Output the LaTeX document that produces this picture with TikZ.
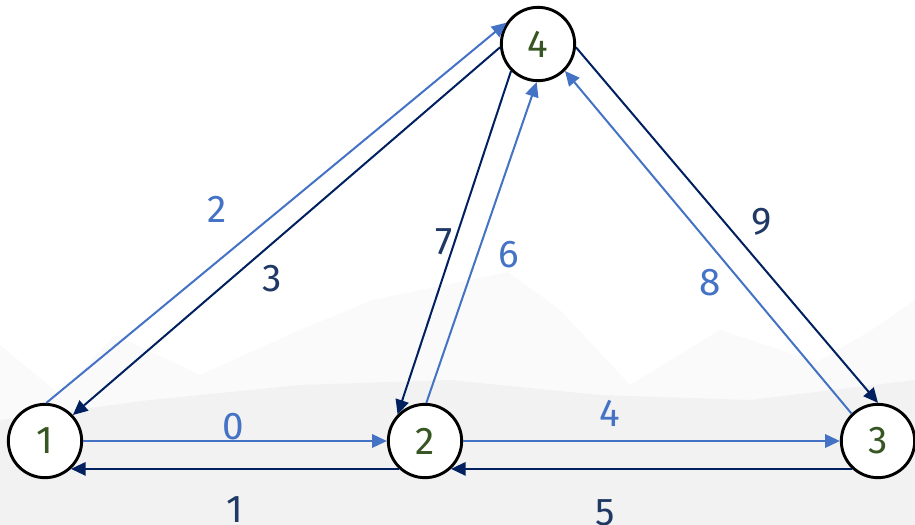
\documentclass[tikz,border=0pt]{standalone}
\usepackage{fontspec}
\setmainfont{Fira Sans}
\usetikzlibrary{arrows.meta}

\definecolor{edgeblue}{HTML}{4472C4}
\definecolor{edgenavy}{HTML}{002060}
\definecolor{labelnavy}{HTML}{1F3864}
\definecolor{nodegreen}{HTML}{375623}

\begin{document}
\begin{tikzpicture}[
    x=0.75pt, y=-0.75pt,
    >={Triangle[length=11pt,width=10pt]},
    vertex/.style={
        circle,
        draw=black,
        line width=2.2pt,
        fill=white,
        minimum size=55pt,
        inner sep=0pt,
        text=nodegreen,
        font=\fontsize{29}{29}\selectfont
    },
    light/.style={->, draw=edgeblue, line width=1.5pt},
    dark/.style={->, draw=edgenavy, line width=1.5pt},
    lightlbl/.style={text=edgeblue, inner sep=0pt, font=\fontsize{29}{29}\selectfont},
    darklbl/.style={text=labelnavy, inner sep=0pt, font=\fontsize{29}{29}\selectfont}
]
\useasboundingbox (0,0) rectangle (915,525);

% ---------------- BACKGROUND ----------------
\fill[white] (0,0) rectangle (915,525);
\fill[black!2] (0,525) -- (0,345) -- (60,395) -- (115,335) -- (200,375) -- (300,330) -- (373,300)
    -- (508,272) -- (560,310) -- (630,385) -- (720,330) -- (817,362) -- (872,330) -- (915,300) -- (915,525) -- cycle;
\fill[black!5] (0,525) -- (0,420) -- (150,400) -- (300,385) -- (450,380) -- (600,395) -- (750,400)
    -- (915,380) -- (915,525) -- cycle;

% ---------------- VERTICES ----------------
\node[vertex] (V1) at ( 45,441) {1};
\node[vertex] (V2) at (425,441) {2};
\node[vertex] (V3) at (878,441) {3};
\node[vertex] (V4) at (538, 44) {4};

% Bottom row:
\draw[light] (V1.0)   to node[lightlbl, shift={( -2,-14)}] {0} (V2.180);
\draw[dark ] (V2.227) to node[darklbl,  shift={(  0, 41)}] {1} (V1.313);
\draw[light] (V2.0)   to node[lightlbl, shift={(-42,-28)}] {4} (V3.180);
\draw[dark ] (V3.227) to node[darklbl,  shift={(-46, 44)}] {5} (V2.313);

% Left side:
\draw[light] (V1.88)  to node[lightlbl, shift={(-59, -3)}] {2} (V4.146);
\draw[dark ] (V4.185) to node[darklbl,  shift={(-14, 47)}] {3} (V1.43);

% Middle:
\draw[light] (V2.88)  to node[lightlbl, shift={( 27, 12)}] {6} (V4.268);
\draw[dark ] (V4.225) to node[darklbl,  shift={(-10, -1)}] {7} (V2.136);

% Right side:
\draw[light] (V3.134) to node[lightlbl, shift={(  2, 40)}] {8} (V4.315);
\draw[dark ] (V4.355) to node[darklbl,  shift={( 35, -3)}] {9} (V3.90);

\end{tikzpicture}
\end{document}
